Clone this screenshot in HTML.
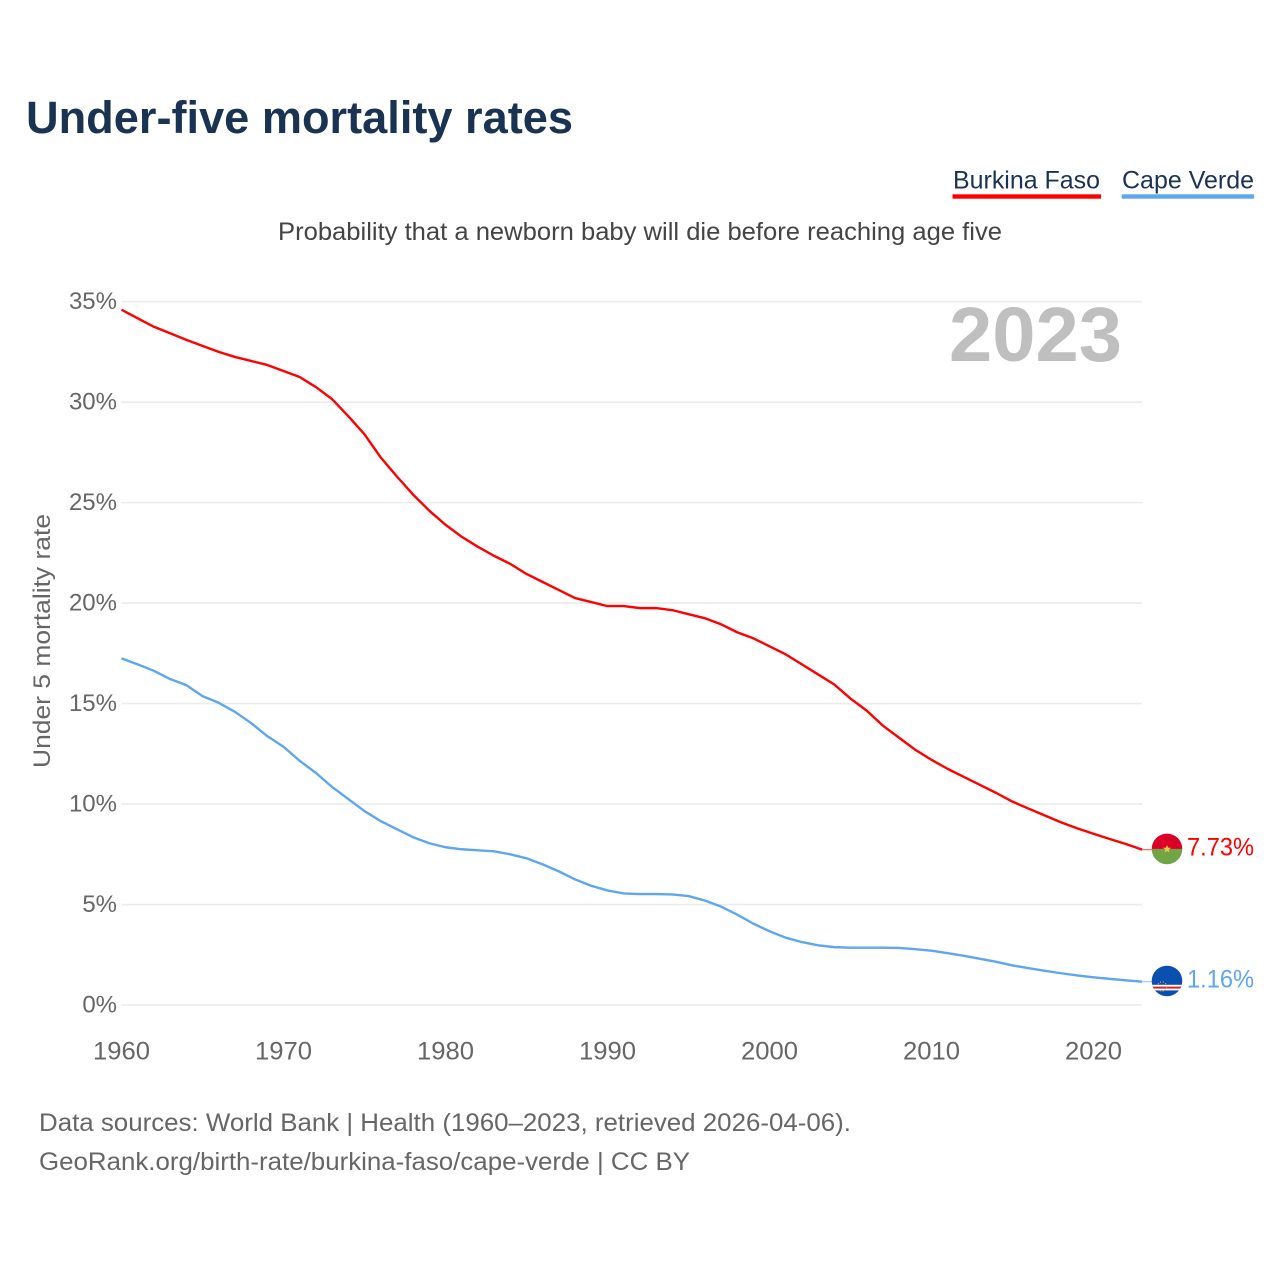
<!DOCTYPE html>
<html>
<head>
<meta charset="utf-8">
<style>
html,body{margin:0;padding:0;background:#fff;width:1280px;height:1280px;overflow:hidden}
svg{display:block}
text{font-family:"Liberation Sans",sans-serif}
</style>
</head>
<body>
<svg id="chart" width="1280" height="1280" viewBox="0 0 1280 1280" xmlns="http://www.w3.org/2000/svg">
  <defs>
    <clipPath id="flag-clip-a"><circle id="clip-a" r="15.3"/></clipPath>
    <clipPath id="flag-clip-b"><circle id="clip-b" r="15.3"/></clipPath>
  </defs>
  <text x="26" y="133" font-size="45" font-weight="700" fill="#1a3352" textLength="547" lengthAdjust="spacingAndGlyphs">Under-five mortality rates</text>

  <g>
    <g>
      <text x="953" y="188.5" font-size="25" fill="#1a3352" textLength="147" lengthAdjust="spacingAndGlyphs">Burkina Faso</text>
      <rect x="952.5" y="194.3" width="148.5" height="4.4" fill="#ff0000"/>
    </g>
    <g>
      <text x="1122" y="188.5" font-size="25" fill="#1a3352" textLength="132" lengthAdjust="spacingAndGlyphs">Cape Verde</text>
      <rect x="1121.7" y="194.3" width="132.3" height="4.4" fill="#5ea6ee"/>
    </g>
  </g>

  <text x="640" y="240" font-size="25" fill="#444444" text-anchor="middle" textLength="724" lengthAdjust="spacingAndGlyphs">Probability that a newborn baby will die before reaching age five</text>

  <g id="grid"></g>
  <g id="y-ticks"></g>
  <g id="x-ticks"></g>

  <text transform="translate(50,641) rotate(-90)" font-size="24" fill="#666666" text-anchor="middle" textLength="254" lengthAdjust="spacingAndGlyphs">Under 5 mortality rate</text>

  <text x="1122" y="361" font-size="77" font-weight="700" fill="#bfbfbf" text-anchor="end" textLength="173" lengthAdjust="spacingAndGlyphs">2023</text>

  <g id="series"></g>

  <g id="flag-a" clip-path="url(#flag-clip-a)">
    <rect x="-16" y="-16" width="32" height="16" fill="#dc0029"/>
    <rect x="-16" y="0" width="32" height="16" fill="#6fa544"/>
    <polygon points="0,-4 1.1,-1.3 4,-1.2 1.8,0.6 2.5,3.4 0,1.9 -2.5,3.4 -1.8,0.6 -4,-1.2 -1.1,-1.3" fill="#f6c445"/>
  </g>
  <g id="flag-b" clip-path="url(#flag-clip-b)">
    <rect x="-16" y="-16" width="32" height="32" fill="#0b50b0"/>
    <rect x="-16" y="3.8" width="32" height="5.6" fill="#ffffff"/>
    <rect x="-16" y="5.6" width="32" height="2" fill="#d9222a"/>
    <circle cx="-5" cy="5.5" r="4.6" fill="none" stroke="#f2cf55" stroke-width="0.9" stroke-dasharray="1 1.8"/>
  </g>

  <text id="value-a" x="1254" font-size="25" fill="#ff0000" text-anchor="end" textLength="67" lengthAdjust="spacingAndGlyphs"></text>
  <text id="value-b" x="1254" font-size="25" fill="#5ea6ee" text-anchor="end" textLength="67" lengthAdjust="spacingAndGlyphs"></text>

  <text x="39" y="1131" font-size="25" fill="#666666" textLength="812" lengthAdjust="spacingAndGlyphs">Data sources: World Bank | Health (1960–2023, retrieved 2026-04-06).</text>
  <text x="39" y="1170" font-size="25" fill="#666666" textLength="651" lengthAdjust="spacingAndGlyphs">GeoRank.org/birth-rate/burkina-faso/cape-verde | CC BY</text>
</svg>
<script>
const years = [1960,1961,1962,1963,1964,1965,1966,1967,1968,1969,1970,1971,1972,1973,1974,1975,1976,1977,1978,1979,1980,1981,1982,1983,1984,1985,1986,1987,1988,1989,1990,1991,1992,1993,1994,1995,1996,1997,1998,1999,2000,2001,2002,2003,2004,2005,2006,2007,2008,2009,2010,2011,2012,2013,2014,2015,2016,2017,2018,2019,2020,2021,2022,2023];
const burkinaFaso = [34.6,34.17,33.75,33.43,33.1,32.8,32.5,32.25,32.05,31.85,31.55,31.25,30.75,30.15,29.3,28.4,27.25,26.3,25.4,24.6,23.9,23.3,22.8,22.35,21.95,21.45,21.05,20.65,20.25,20.05,19.85,19.85,19.75,19.75,19.65,19.45,19.25,18.95,18.55,18.25,17.85,17.45,16.95,16.45,15.95,15.25,14.65,13.9,13.3,12.7,12.2,11.75,11.35,10.95,10.55,10.12,9.77,9.43,9.09,8.79,8.52,8.26,8.01,7.73];
const capeVerde = [17.25,16.95,16.63,16.22,15.92,15.37,15.04,14.59,14.03,13.38,12.85,12.15,11.55,10.85,10.25,9.65,9.15,8.75,8.35,8.05,7.85,7.75,7.7,7.65,7.5,7.3,7.0,6.65,6.25,5.93,5.7,5.55,5.52,5.52,5.5,5.42,5.2,4.9,4.5,4.05,3.67,3.35,3.13,2.97,2.88,2.85,2.85,2.85,2.84,2.78,2.7,2.58,2.45,2.3,2.15,1.97,1.83,1.7,1.58,1.47,1.38,1.3,1.23,1.16];
const yTickValues = [0,5,10,15,20,25,30,35];
const yTickLabels = ["0%","5%","10%","15%","20%","25%","30%","35%"];
const xTickValues = [1960,1970,1980,1990,2000,2010,2020];
const xTickLabels = ["1960","1970","1980","1990","2000","2010","2020"];

const NS = 'http://www.w3.org/2000/svg';
const xScale = function (yr) { return 121.5 + (yr - 1960) * 16.2; };
const yScale = function (v) { return 1005 - v * 20.095; };

const gridG = document.getElementById('grid');
const yG = document.getElementById('y-ticks');
const xG = document.getElementById('x-ticks');
const seriesG = document.getElementById('series');

yTickValues.forEach(function (v, i) {
  const line = document.createElementNS(NS, 'line');
  
  
  line.setAttribute('x1', xScale(1960));
  line.setAttribute('x2', xScale(2023));
  line.setAttribute('y1', yScale(v));
  line.setAttribute('y2', yScale(v));
  line.setAttribute('stroke', '#ececec');
  line.setAttribute('stroke-width', '1.6');
  gridG.appendChild(line);

  const t = document.createElementNS(NS, 'text');
  
  
  t.setAttribute('x', 117);
  t.setAttribute('y', yScale(v) + 7.5);
  t.setAttribute('font-size', '24');
  t.setAttribute('fill', '#666666');
  t.setAttribute('text-anchor', 'end');
  t.textContent = yTickLabels[i];
  yG.appendChild(t);
});

xTickValues.forEach(function (yr, i) {
  const t = document.createElementNS(NS, 'text');
  
  
  t.setAttribute('x', xScale(yr));
  t.setAttribute('y', 1059.5);
  t.setAttribute('font-size', '25');
  t.setAttribute('fill', '#666666');
  t.setAttribute('text-anchor', 'middle');
  t.setAttribute('textLength', '57');
  t.setAttribute('lengthAdjust', 'spacingAndGlyphs');
  t.textContent = xTickLabels[i];
  xG.appendChild(t);
});

function drawSeries(values, colour, name) {
  const path = document.createElementNS(NS, 'path');
  
  
  path.setAttribute('d', values.map(function (v, i) {
    return (i ? 'L' : 'M') + xScale(years[i]).toFixed(2) + ' ' + yScale(v).toFixed(2);
  }).join(' '));
  path.setAttribute('fill', 'none');
  path.setAttribute('stroke', colour);
  path.setAttribute('stroke-width', '2.4');
  path.setAttribute('stroke-linejoin', 'round');
  seriesG.appendChild(path);

  const last = values[values.length - 1];
  const lead = document.createElementNS(NS, 'line');
  
  
  lead.setAttribute('x1', xScale(years[years.length - 1]));
  lead.setAttribute('x2', xScale(years[years.length - 1]) + 11);
  lead.setAttribute('y1', yScale(last));
  lead.setAttribute('y2', yScale(last));
  lead.setAttribute('stroke', colour);
  lead.setAttribute('stroke-width', '1.2');
  lead.setAttribute('stroke-opacity', '0.6');
  seriesG.appendChild(lead);
}
drawSeries(burkinaFaso, '#ff0000', 'line-burkina-faso');
drawSeries(capeVerde, '#5ea6ee', 'line-cape-verde');

function placeEnd(flagId, clipId, labelId, value) {
  const cy = yScale(value) - 0.7;
  document.getElementById(flagId).setAttribute('transform', 'translate(1167,' + cy + ')');
  document.getElementById(clipId).setAttribute('cx', 0);
  document.getElementById(clipId).setAttribute('cy', 0);
  const label = document.getElementById(labelId);
  label.setAttribute('y', cy + 6.5);
  label.textContent = value.toFixed(2) + '%';
}
placeEnd('flag-a', 'clip-a', 'value-a', burkinaFaso[burkinaFaso.length - 1]);
placeEnd('flag-b', 'clip-b', 'value-b', capeVerde[capeVerde.length - 1]);
</script>
</body>
</html>
